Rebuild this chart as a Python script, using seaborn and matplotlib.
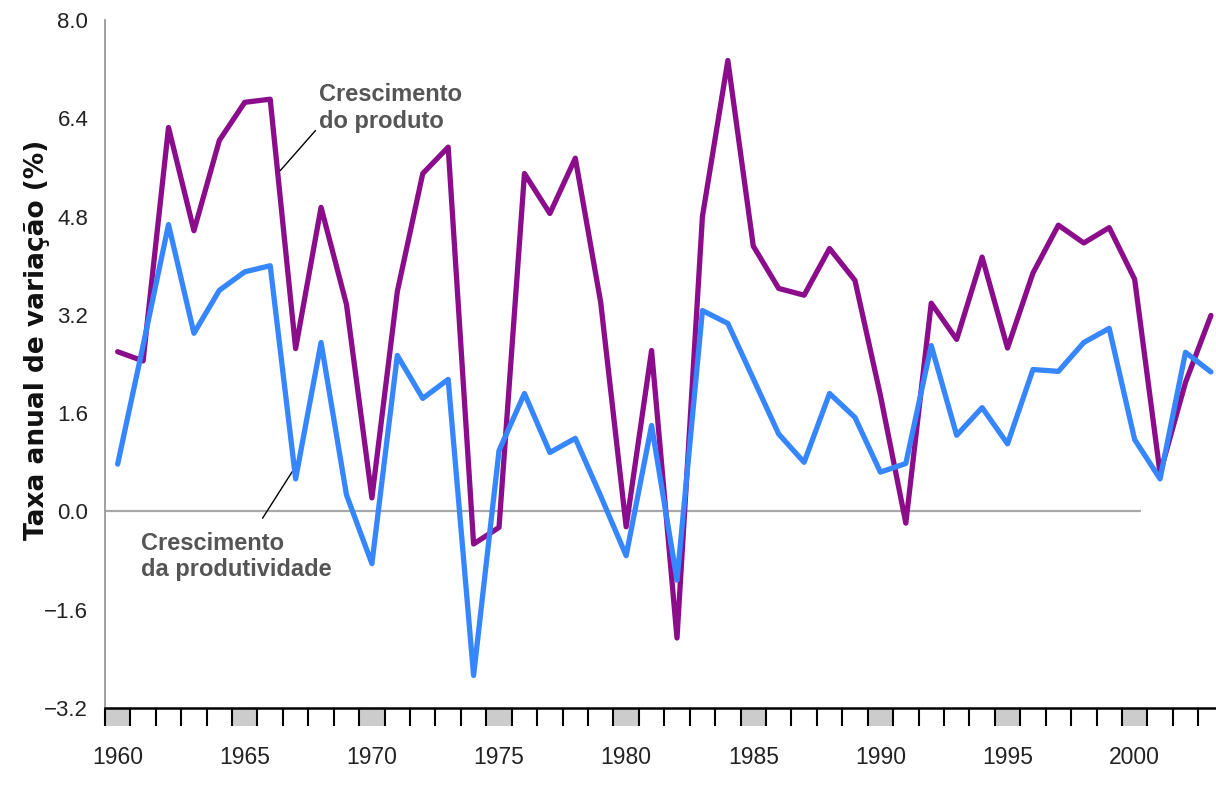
import numpy as np
import pandas as pd
import seaborn as sns
import matplotlib.pyplot as plt
from matplotlib.patches import Rectangle

# annual growth rates (%)
years = list(range(1960, 2004))
produto = [2.6, 2.45, 6.25, 4.57, 6.04, 6.66, 6.71, 2.65, 4.95, 3.37,
           0.22, 3.58, 5.5, 5.93, -0.53, -0.26, 5.5, 4.85, 5.75, 3.4,
           -0.25, 2.62, -2.06, 4.8, 7.34, 4.32, 3.63, 3.52, 4.28, 3.76,
           1.89, -0.19, 3.39, 2.8, 4.14, 2.66, 3.88, 4.66, 4.37, 4.62,
           3.78, 0.62, 2.1, 3.19]
produtividade = [0.77, 2.7, 4.67, 2.9, 3.6, 3.9, 4.0, 0.53, 2.75, 0.27,
                 -0.85, 2.54, 1.84, 2.15, -2.67, 0.99, 1.92, 0.96, 1.19, 0.25,
                 -0.72, 1.40, -1.12, 3.27, 3.06, 2.16, 1.26, 0.8, 1.92, 1.53,
                 0.64, 0.78, 2.7, 1.24, 1.69, 1.1, 2.31, 2.28, 2.75, 2.98,
                 1.17, 0.53, 2.59, 2.27]
yticks = [-3.2, -1.6, 0.0, 1.6, 3.2, 4.8, 6.4, 8.0]
year_labels = [1960, 1965, 1970, 1975, 1980, 1985, 1990, 1995, 2000]
zero_line_end = 2000.25

df = pd.DataFrame({"ano": years, "produto": produto, "produtividade": produtividade})

sns.set_style("white")
plt.rcParams["font.family"] = ["Liberation Sans", "DejaVu Sans"]

fig = plt.figure(figsize=(12.16, 7.86), dpi=100)
ax = fig.add_axes([0.0863, 0.0992, 0.9137, 0.8754])

ax.hlines(0, years[0] - 0.5, zero_line_end, color="#a8a8a8", lw=1.6, zorder=1)
sns.lineplot(data=df, x="ano", y="produto", color="#8b0d8c", lw=3.8, ax=ax, zorder=3)
sns.lineplot(data=df, x="ano", y="produtividade", color="#3586ff", lw=3.8, ax=ax, zorder=4)

ax.set_xlim(years[0] - 0.5, 2003.2)
ax.set_ylim(-3.2, 8.0)
ax.set_xlabel("")
ax.set_ylabel("Taxa anual de variação (%)", family="DejaVu Sans", fontweight="bold",
              fontsize=19, color="#111111")
ax.yaxis.set_label_coords(-0.049, 0.535)

# y axis: inward ticks
ax.set_yticks(yticks)
ax.set_yticklabels([f"{v:.1f}".replace("-", "\u2212") for v in yticks])
ax.tick_params(axis="y", direction="in", length=20, width=1.5, color="black",
               pad=12, labelsize=16, labelcolor="#222222")

# x axis: year cells below the axis
ax.set_xticks(year_labels)
ax.set_xticks(np.arange(years[0] - 0.5, years[-1], 1), minor=True)
ax.tick_params(axis="x", which="major", length=0, pad=27, labelsize=16.5, labelcolor="#222222")
ax.tick_params(axis="x", which="minor", direction="out", length=13, width=1.5,
               color="black", bottom=True)
cell_h = 18 / 688
for y in years:
    if y % 5 == 0:
        ax.add_patch(Rectangle((y - 0.5, -cell_h), 1, cell_h, transform=ax.get_xaxis_transform(),
                               facecolor="#cccccc", edgecolor="none", clip_on=False, zorder=0))

for side in ["top", "right"]:
    ax.spines[side].set_visible(False)
ax.spines["left"].set_color("#999999")
ax.spines["left"].set_linewidth(1.3)
ax.spines["bottom"].set_color("black")
ax.spines["bottom"].set_linewidth(1.8)

# labels with leader lines
txt = dict(fontsize=17, fontweight="bold", color="#555555", va="top", ha="left", linespacing=1.2)
ax.text(1967.9, 6.97, "Crescimento\ndo produto", **txt)
ax.text(1960.9, -0.33, "Crescimento\nda produtividade", **txt)
leader = dict(arrowstyle="-", lw=1.0, color="black", shrinkA=0, shrinkB=0)
ax.annotate("", xy=(1966.4, 5.55), xytext=(1967.78, 6.2), arrowprops=leader)
ax.annotate("", xy=(1967.07, 0.78), xytext=(1965.7, -0.11), arrowprops=leader)

fig.savefig("out.png", dpi=100)
